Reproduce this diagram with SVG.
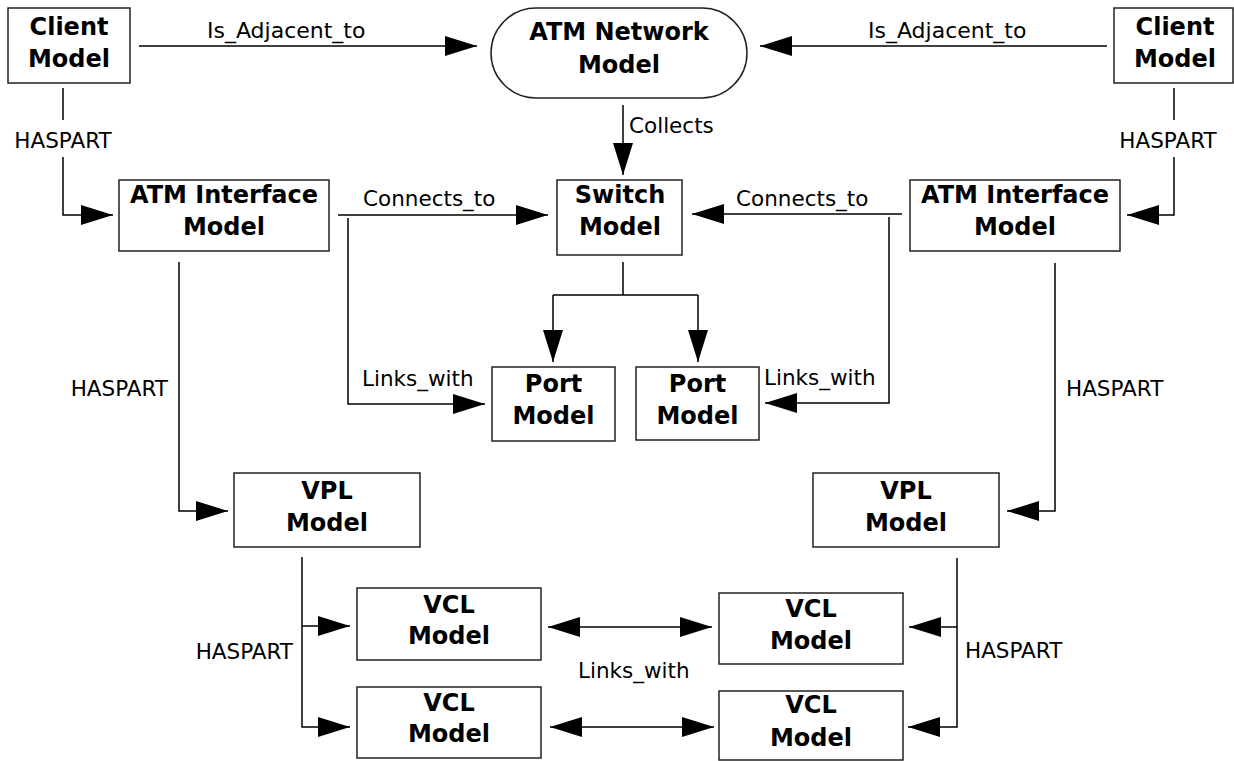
<svg xmlns="http://www.w3.org/2000/svg" width="1234" height="761" viewBox="0 0 1234 761">
<style>
.box{fill:#fff;stroke:#222;stroke-width:1.5}
.nt{font-family:"DejaVu Sans","Liberation Sans",sans-serif;font-weight:bold;font-size:24px;text-anchor:middle;fill:#000}
.lt{font-family:"DejaVu Sans","Liberation Sans",sans-serif;font-size:21.5px;fill:#000}
.lt2{font-family:"DejaVu Sans","Liberation Sans",sans-serif;font-size:22px;fill:#000}
.c{fill:none;stroke:#000;stroke-width:1.5}
.a{marker-end:url(#ah)}
.d{marker-start:url(#ahs);marker-end:url(#ah)}
</style>
<defs>
<marker id="ah" markerUnits="userSpaceOnUse" markerWidth="32" markerHeight="20" refX="32" refY="10" orient="auto"><path d="M0,0 L32,10 L0,20 z" fill="#000"/></marker>
<marker id="ahs" markerUnits="userSpaceOnUse" markerWidth="32" markerHeight="20" refX="0" refY="10" orient="auto"><path d="M32,0 L0,10 L32,20 z" fill="#000"/></marker>
</defs>
<rect width="1234" height="761" fill="#fff"/>
<g id="connectors">
<line class="c a" x1="139" y1="46" x2="477" y2="46"/>
<text class="lt2" x="207" y="38">Is_Adjacent_to</text>
<line class="c a" x1="1107" y1="46" x2="760" y2="46"/>
<text class="lt2" x="868" y="38">Is_Adjacent_to</text>
<line class="c a" x1="623" y1="105" x2="623" y2="175"/>
<text class="lt" x="629" y="133">Collects</text>
<line class="c" x1="63" y1="88" x2="63" y2="120"/>
<path class="c a" d="M63,157 L63,215 L113,215"/>
<text class="lt" x="63" y="148" text-anchor="middle">HASPART</text>
<line class="c" x1="1174" y1="88" x2="1174" y2="120"/>
<path class="c a" d="M1174,157 L1174,215 L1127,215"/>
<text class="lt" x="1168" y="148" text-anchor="middle">HASPART</text>
<line class="c a" x1="338" y1="215" x2="548" y2="215"/>
<text class="lt" x="363" y="206">Connects_to</text>
<path class="c a" d="M348,218 L348,404 L485,404"/>
<text class="lt" x="362" y="386">Links_with</text>
<line class="c a" x1="902" y1="214" x2="692" y2="214"/>
<text class="lt" x="736" y="206">Connects_to</text>
<path class="c a" d="M889,217 L889,403 L765,403"/>
<text class="lt" x="764" y="385">Links_with</text>
<path class="c" d="M623,262 L623,295 M553,295 L698,295"/>
<line class="c a" x1="553" y1="295" x2="553" y2="362"/>
<line class="c a" x1="698" y1="295" x2="698" y2="362"/>
<path class="c a" d="M179,262 L179,511 L228,511"/>
<text class="lt" x="168" y="396" text-anchor="end">HASPART</text>
<path class="c a" d="M1055,263 L1055,511 L1007,511"/>
<text class="lt" x="1066" y="396">HASPART</text>
<path class="c a" d="M302,557 L302,727 L350,727"/>
<line class="c a" x1="302" y1="626" x2="350" y2="626"/>
<text class="lt" x="293" y="659" text-anchor="end">HASPART</text>
<path class="c a" d="M957,558 L957,727 L908,727"/>
<line class="c a" x1="957" y1="627" x2="909" y2="627"/>
<text class="lt" x="965" y="658">HASPART</text>
<line class="c d" x1="548" y1="627" x2="712" y2="627"/>
<line class="c d" x1="550" y1="727" x2="714" y2="727"/>
<text class="lt" x="578" y="678">Links_with</text>
</g>
<g id="clientL"><rect class="box" x="8" y="8" width="122" height="75"/><text class="nt" x="69" y="35">Client</text><text class="nt" x="69" y="67">Model</text></g>
<g id="clientR"><rect class="box" x="1114" y="8" width="119" height="75"/><text class="nt" x="1175" y="35">Client</text><text class="nt" x="1175" y="67">Model</text></g>
<g id="atmNetwork"><rect class="box" x="491" y="8" width="256" height="90" rx="45" ry="45"/><text class="nt" x="619" y="40">ATM Network</text><text class="nt" x="619" y="73">Model</text></g>
<g id="atmIfL"><rect class="box" x="119" y="180" width="210" height="71"/><text class="nt" x="224" y="203">ATM Interface</text><text class="nt" x="224" y="235">Model</text></g>
<g id="switch"><rect class="box" x="557" y="180" width="125" height="75"/><text class="nt" x="620" y="203">Switch</text><text class="nt" x="620" y="235">Model</text></g>
<g id="atmIfR"><rect class="box" x="910" y="180" width="210" height="71"/><text class="nt" x="1015" y="203">ATM Interface</text><text class="nt" x="1015" y="235">Model</text></g>
<g id="port1"><rect class="box" x="492" y="367" width="123" height="74"/><text class="nt" x="553.5" y="392">Port</text><text class="nt" x="553.5" y="424">Model</text></g>
<g id="port2"><rect class="box" x="636" y="367" width="123" height="73"/><text class="nt" x="697.5" y="392">Port</text><text class="nt" x="697.5" y="424">Model</text></g>
<g id="vplL"><rect class="box" x="234" y="473" width="186" height="74"/><text class="nt" x="327" y="499">VPL</text><text class="nt" x="327" y="531">Model</text></g>
<g id="vplR"><rect class="box" x="813" y="473" width="186" height="74"/><text class="nt" x="906" y="499">VPL</text><text class="nt" x="906" y="531">Model</text></g>
<g id="vclL1"><rect class="box" x="357" y="588" width="184" height="72"/><text class="nt" x="449" y="613">VCL</text><text class="nt" x="449" y="644">Model</text></g>
<g id="vclL2"><rect class="box" x="357" y="687" width="184" height="71"/><text class="nt" x="449" y="711">VCL</text><text class="nt" x="449" y="742">Model</text></g>
<g id="vclR1"><rect class="box" x="719" y="593" width="184" height="71"/><text class="nt" x="811" y="617">VCL</text><text class="nt" x="811" y="649">Model</text></g>
<g id="vclR2"><rect class="box" x="719" y="691" width="184" height="69"/><text class="nt" x="811" y="713">VCL</text><text class="nt" x="811" y="746">Model</text></g>
</svg>
